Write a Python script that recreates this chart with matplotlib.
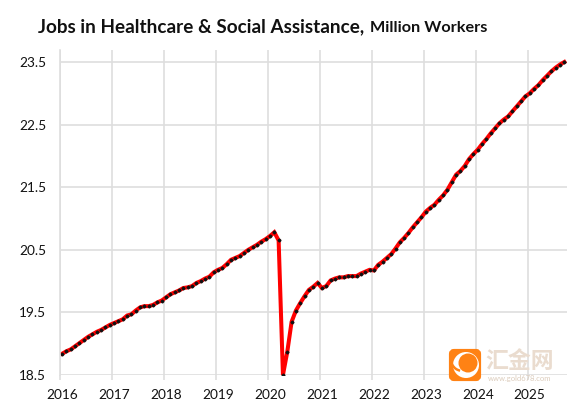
import matplotlib
matplotlib.use("Agg")
import matplotlib.pyplot as plt
import numpy as np
from matplotlib.patches import FancyBboxPatch, Circle, Wedge

plt.rcParams['font.family'] = ['Lato', 'DejaVu Sans']

### monthly values, Jan 2016 - Sep 2025
jobs_2016 = [18.84, 18.88, 18.91, 18.96, 19.01, 19.06, 19.11, 19.15, 19.19, 19.22, 19.26, 19.30]
jobs_2017 = [19.33, 19.36, 19.39, 19.45, 19.47, 19.53, 19.58, 19.60, 19.60, 19.62, 19.66, 19.69]
jobs_2018 = [19.74, 19.79, 19.82, 19.85, 19.89, 19.90, 19.92, 19.97, 20.00, 20.04, 20.07, 20.14]
jobs_2019 = [20.18, 20.21, 20.27, 20.34, 20.37, 20.40, 20.45, 20.50, 20.54, 20.58, 20.63, 20.67]
jobs_2020 = [20.72, 20.78, 20.65, 18.50, 18.87, 19.35, 19.53, 19.65, 19.76, 19.86, 19.91, 19.97]
jobs_2021 = [19.89, 19.92, 20.01, 20.04, 20.06, 20.06, 20.08, 20.08, 20.08, 20.12, 20.15, 20.18]
jobs_2022 = [20.17, 20.26, 20.31, 20.37, 20.43, 20.52, 20.62, 20.69, 20.77, 20.86, 20.94, 21.02]
jobs_2023 = [21.11, 21.17, 21.22, 21.30, 21.37, 21.46, 21.58, 21.70, 21.76, 21.84, 21.95, 22.03]
jobs_2024 = [22.10, 22.19, 22.27, 22.36, 22.44, 22.52, 22.58, 22.63, 22.71, 22.79, 22.87, 22.95]
jobs_2025 = [23.00, 23.07, 23.13, 23.21, 23.28, 23.35, 23.41, 23.46, 23.50]

years = ["2016", "2017", "2018", "2019", "2020", "2021", "2022", "2023", "2024", "2025"]
y_ticks = [18.5, 19.5, 20.5, 21.5, 22.5, 23.5]

jobs = (jobs_2016 + jobs_2017 + jobs_2018 + jobs_2019 + jobs_2020
        + jobs_2021 + jobs_2022 + jobs_2023 + jobs_2024 + jobs_2025)
x = np.arange(len(jobs)) + 0.5
year_pos = np.arange(len(years)) * 12

W, H = 569, 404
fig = plt.figure(figsize=(W / 100, H / 100), dpi=100)
ax = fig.add_axes([60 / W, 1 - 375 / H, 506.5 / W, 325 / H])

grid = "#dedede"
ax.set_xlim(0, len(jobs))
ax.set_ylim(18.5, 18.5 + 325 / 62.6)
ax.set_xticks(year_pos)
ax.set_xticklabels([])
ax.set_xticks(year_pos + 0.5, labels=years, minor=True)
ax.set_yticks(y_ticks, labels=[f"{v:.1f}" for v in y_ticks])
ax.grid(True, color=grid, linewidth=1.2)
ax.set_axisbelow(True)
for s in ["top", "right", "bottom"]:
    ax.spines[s].set_visible(False)
ax.spines["left"].set_color(grid)
ax.spines["left"].set_linewidth(1.2)
ax.tick_params(axis="x", which="major", length=3.6, color=grid, width=1.2)
ax.tick_params(axis="x", which="minor", length=0, pad=10, labelsize=9.8, labelcolor="#111111")
ax.tick_params(axis="y", length=0, pad=10, labelsize=9.8, labelcolor="#111111")

### red line with small black markers
ax.plot(x, jobs, color="#ff0000", linewidth=2.9, solid_joinstyle="miter", clip_on=True)
ax.plot(x, jobs, linestyle="none", marker="D", markersize=1.5, color="#111111", clip_on=True)

### title in two sizes
fig.text(38 / W, 1 - 32 / H, "Jobs in Healthcare & Social Assistance,", fontsize=13.6,
         fontweight="bold", color="#111111", va="baseline")
fig.text(370 / W, 1 - 32 / H, "Million Workers", fontsize=11.7,
         fontweight="bold", color="#111111", va="baseline")

### watermark
wm = fig.add_axes([0, 0, 1, 1], facecolor="none")
wm.set_xlim(0, W)
wm.set_ylim(H, 0)
wm.axis("off")
wm.add_patch(FancyBboxPatch((451, 351), 28, 28, boxstyle="round,pad=0,rounding_size=3",
                            facecolor="#ff8214", edgecolor="#ff8214", linewidth=3))
wm.add_patch(Circle((466, 365), 13, facecolor="white", edgecolor="none"))
wm.add_patch(Circle((468, 363), 9.5, facecolor="#ff8214", edgecolor="none"))
wm.add_patch(Wedge((462, 360), 12, 100, 200, width=2.5, facecolor="#ff8214", edgecolor="none"))
wm.text(520, 362, "汇金网", fontsize=16.5, fontweight="bold", color="#eadccf",
        ha="center", va="center", family=["Noto Sans CJK SC", "DejaVu Sans"])
wm.text(520, 378, "www.gold678.com", fontsize=5.5, color="#dcccbc", ha="center", va="center")

fig.savefig("out.png", dpi=100)
